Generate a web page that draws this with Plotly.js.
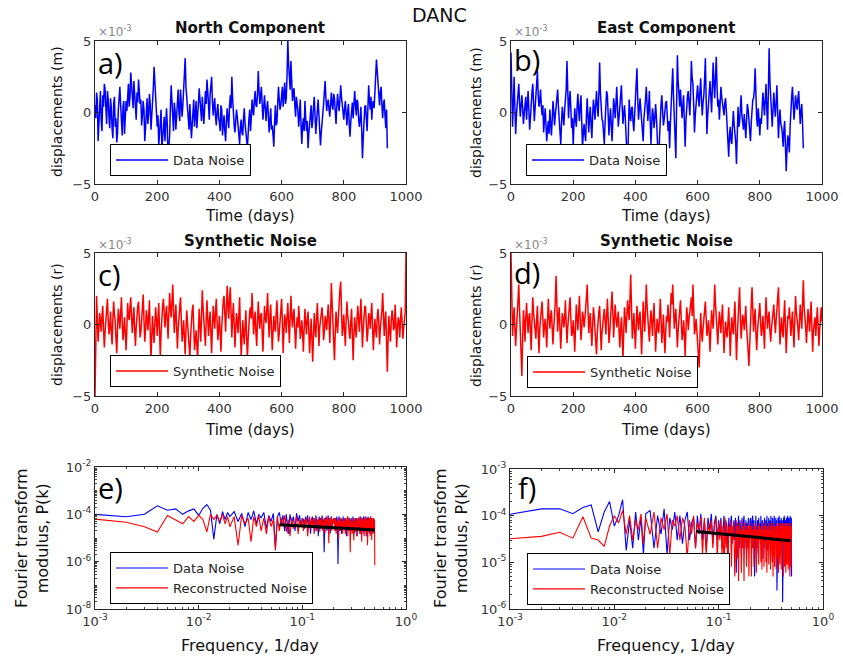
<!DOCTYPE html>
<html>
<head>
<meta charset="utf-8">
<script src="https://cdn.plot.ly/plotly-3.0.1.min.js"></script>
<style>html,body{margin:0;padding:0;background:#fff;}#chart{width:843px;height:664px;}</style>
</head>
<body>
<div id="chart"></div>
<script>
// ---------------- DATA ----------------
// Displacements in units of 1e-3 m, one value every 2.5 days starting at day 0
const northDataNoise = [
 0.5,-0.4,1.4,0.9,-2.0,-0.7,0.8,1.5,-0.6,-1.3,1.2,0.4,2.0,1.6,0.3,-0.8,1.5,0.9,-0.4,-1.1,
 1.0,0.3,-1.2,-1.8,0.6,1.1,-1.0,-0.4,-2.1,-1.4,0.2,0.9,1.8,0.5,-0.8,-1.6,0.4,0.8,-1.5,-0.6,
 0.8,0.1,1.6,2.0,0.4,1.1,2.8,1.9,1.0,0.3,2.2,1.5,0.2,-0.5,1.4,0.7,2.3,1.6,0.6,0.9,
 -0.9,-0.2,0.8,0.2,-2.0,-1.1,0.5,1.0,-0.8,-0.1,1.3,0.6,-1.2,-0.4,0.9,1.7,3.2,2.1,0.7,-0.3,
 -1.0,-0.2,-2.3,-1.5,-0.5,0.2,-2.6,-1.8,-1.1,-0.3,-2.0,-1.2,0.3,-0.9,-4.0,-2.4,-1.6,0.4,1.9,0.8,
 -0.6,-1.3,0.7,0.1,-1.2,-0.3,1.1,1.6,0.0,-0.6,1.6,0.9,-0.3,0.5,1.9,2.6,3.8,1.8,0.9,0.2,
 -0.5,-1.2,0.6,-0.4,-1.8,-0.9,0.3,0.9,-1.0,-0.3,0.8,-1.1,-0.4,0.6,1.7,0.8,0.2,-0.6,1.1,0.4,
 -0.8,0.3,1.5,0.6,2.3,1.5,0.4,-0.5,1.2,1.9,2.5,0.8,-0.2,0.5,1.0,-0.3,-0.9,0.1,0.6,-0.4,
 -0.7,-1.3,0.5,0.2,-1.6,-0.8,-0.2,-1.3,-2.0,-0.6,0.3,-0.5,-1.1,0.4,1.2,0.3,2.5,1.0,-0.3,-0.9,
 -1.4,-0.6,0.2,-0.3,-1.0,-1.7,-2.2,-1.0,-0.5,-1.4,-1.6,-0.4,0.3,-0.8,-1.2,-1.9,-2.5,-1.0,-0.4,0.2,
 -1.3,-0.4,0.9,0.2,-0.2,0.9,1.5,0.5,0.4,1.3,2.9,1.5,0.6,1.2,1.8,0.6,-0.5,0.4,1.2,0.3,
 -0.6,0.3,0.8,-0.3,-1.4,-0.5,0.3,-1.2,-0.9,-1.6,-2.4,-0.7,0.5,-0.9,-0.7,0.6,1.8,0.9,0.2,0.5,
 1.2,1.8,0.4,1.1,2.1,0.6,1.0,2.6,5.0,3.4,2.4,1.6,3.6,2.0,0.8,1.5,1.7,0.5,-0.3,1.1,
 0.6,0.1,-1.0,-0.2,0.9,-1.0,-2.2,-0.9,-0.4,-1.3,0.8,-0.4,-1.3,-0.6,-2.5,-1.5,-0.8,-0.1,0.5,-1.1,
 -0.6,0.4,1.1,-0.2,-1.5,-0.6,0.3,0.9,-0.2,-1.2,-2.3,-1.4,-0.9,-0.1,0.6,1.3,2.2,1.0,0.1,0.7,
 0.9,0.2,-0.3,0.6,1.4,0.5,0.2,1.3,1.0,0.1,-0.8,0.4,1.3,0.6,0.1,0.9,1.9,1.1,0.4,-0.2,
 -0.5,0.3,0.8,-0.1,-0.9,0.1,0.6,-0.8,-1.7,-0.6,0.3,0.7,-0.4,0.4,1.5,0.6,-0.2,0.9,0.7,-0.4,
 -1.0,-0.5,0.4,-1.2,-3.2,-1.8,-0.6,0.4,0.5,-0.6,-1.3,0.3,1.9,0.8,0.2,1.1,-0.5,0.6,0.8,0.3,
 1.6,2.4,3.7,2.9,2.0,1.1,0.5,1.4,1.8,0.5,-0.4,0.6,0.9,-0.2,-1.1,0.2,-2.5
];
const eastDataNoise = [
 4.2,1.5,-1.0,0.6,2.5,0.4,-1.5,-0.2,0.8,1.6,2.0,0.7,-0.3,0.5,1.2,0.3,-0.8,-0.1,0.6,1.1,
 -0.5,0.7,1.5,0.2,-1.2,-0.4,0.9,1.4,2.0,0.5,-0.6,0.3,1.1,1.8,2.9,1.2,0.4,0.8,1.6,0.5,
 -0.2,0.5,-1.4,-0.5,0.3,-0.9,-2.0,-1.1,-0.6,-1.5,0.2,-0.8,-1.6,-0.5,0.8,0.1,-0.9,-0.2,0.3,0.7,
 1.6,0.4,-0.5,-1.3,-2.2,-0.7,0.4,-0.3,-0.9,0.2,0.7,1.6,3.6,1.2,-0.4,0.8,1.5,0.2,-1.1,-0.4,
 -2.3,-0.8,0.3,-0.5,-1.0,0.4,1.3,0.2,-0.6,0.5,1.2,-0.7,-2.5,-1.4,-0.8,-1.5,-2.0,-0.3,1.0,-0.2,
 -1.4,-0.3,0.4,-0.9,-1.8,-0.2,0.9,0.3,-0.5,0.6,1.5,0.4,-0.3,1.2,3.5,1.4,0.2,-0.5,-0.6,-1.5,
 -2.2,-0.7,0.5,1.5,1.2,-0.2,-1.6,-0.5,0.3,-0.9,-2.0,-0.6,1.0,0.4,-0.4,0.7,1.8,0.3,-1.0,-0.3,
 0.6,1.2,1.9,0.4,-0.8,-0.1,0.5,-0.4,-1.5,-2.3,-4.0,-1.4,0.9,-0.2,-0.6,0.3,0.4,-0.7,-1.3,-0.2,
 0.8,1.7,3.1,1.0,-0.5,0.3,1.0,0.2,-0.8,-1.3,-2.0,-0.4,0.7,0.9,1.8,0.5,-0.6,0.4,1.5,-0.5,
 -2.2,-0.8,0.3,-0.2,-1.1,-0.4,0.6,-0.3,-1.6,-2.5,-4.0,-1.8,-0.3,0.6,1.2,0.1,-0.9,-0.5,0.2,0.7,
 0.8,-0.1,-1.3,-0.6,-2.5,-0.8,0.5,1.8,3.1,1.2,-0.6,-1.5,-3.2,0.5,4.0,2.2,0.9,0.4,1.6,0.9,
 -0.4,0.5,1.2,-0.7,-2.4,-0.6,0.6,1.2,1.5,0.4,-0.2,1.3,3.6,2.4,2.0,0.5,-1.4,-0.2,0.8,1.5,
 1.9,1.0,0.4,1.5,2.4,0.9,-0.2,0.7,1.2,2.3,3.8,1.0,-1.5,-0.2,0.6,1.4,2.2,1.1,0.0,1.8,
 3.5,2.0,1.0,2.5,3.9,1.8,0.4,0.9,-0.5,0.6,1.8,1.1,0.6,0.2,-0.2,0.7,1.0,0.1,-0.8,-1.9,
 -3.1,-1.6,-1.0,-2.0,-2.2,-0.9,0.1,-0.8,-1.3,-2.1,-3.6,-1.5,0.4,-1.0,-0.7,0.3,1.2,-0.2,-0.9,-1.2,
 -0.1,-1.1,-1.8,-0.5,0.6,0.2,-0.5,-1.4,-2.0,-0.7,0.2,0.9,1.0,1.6,3.1,0.9,-0.4,-1.0,0.3,-0.5,
 -1.6,-0.4,-0.8,0.3,1.4,0.6,-0.2,0.9,2.0,0.3,-1.2,1.4,4.5,2.2,0.8,0.1,-1.0,0.2,1.4,0.5,
 -0.3,0.7,1.9,0.1,-1.8,-0.6,0.2,-0.8,-1.0,-1.5,-2.4,-1.2,-0.6,-2.4,-4.1,-2.6,-1.6,-2.0,-2.8,-1.0,
 0.4,1.1,1.8,0.6,-0.5,0.3,1.2,0.6,0.2,1.0,1.5,0.4,-0.8,0.1,0.6,-0.8,-2.5
];
const northSynthetic = [
 -5.0,1.6,2.0,0.4,-1.2,-0.3,0.8,0.2,-0.5,0.6,1.3,-0.4,-1.6,-0.5,0.4,1.0,1.8,0.3,-0.7,-0.2,
 0.9,-0.6,-1.4,0.4,1.6,0.7,0.2,-1.0,-2.0,-0.2,1.1,0.5,-0.3,0.8,1.9,0.2,-1.1,-0.4,0.5,-0.7,
 -1.8,-0.2,1.5,0.6,0.3,1.2,1.9,0.5,-0.6,0.4,1.2,-0.3,-1.5,-0.2,0.7,1.3,1.6,0.2,-0.9,-0.5,
 0.4,1.0,2.1,0.3,-1.2,-0.4,1.0,0.5,-0.4,0.6,1.7,-0.5,-2.4,-0.8,0.6,-0.5,-1.3,0.1,1.2,0.4,
 -0.8,0.3,1.5,-0.4,-2.3,-0.6,0.9,1.3,1.8,0.6,-0.2,0.7,1.3,0.2,-1.0,0.8,2.2,1.1,0.5,1.6,
 2.8,1.0,-0.6,0.5,1.4,-0.2,-1.7,-0.3,0.8,1.2,1.9,0.4,-1.2,-0.6,0.3,-0.9,-2.1,-0.4,1.0,0.1,
 -1.0,-1.6,-2.3,-0.8,0.6,1.0,1.4,-0.3,-1.8,-1.0,-0.4,-1.5,-2.4,-0.5,1.1,-0.1,-1.2,0.6,2.4,1.2,
 0.2,-0.7,-1.5,0.3,1.7,0.4,-0.8,0.2,0.9,-0.6,-2.0,-0.2,1.3,0.4,-0.3,0.9,1.8,0.3,-1.1,-0.4,
 0.6,-0.6,-1.9,-0.2,1.2,1.7,2.0,0.7,-0.5,1.1,2.7,1.4,0.4,1.8,2.6,0.9,-0.9,0.5,1.5,0.1,
 -1.6,-0.3,0.8,0.2,-0.6,0.7,1.9,-0.4,-2.2,-1.1,0.3,-0.6,-1.4,-0.1,1.0,-0.8,-2.4,-1.0,0.2,0.9,
 1.2,0.4,2.2,0.8,-0.7,0.3,0.9,-0.6,-1.5,0.2,1.6,0.5,-0.3,0.6,0.8,-0.5,-1.9,-0.2,1.3,0.5,
 0.1,1.1,2.2,0.4,-0.9,0.6,1.4,-0.3,-1.8,-0.5,0.6,-0.2,-0.5,0.8,1.7,0.2,-1.2,-0.6,0.4,1.0,
 1.8,0.2,-2.0,-0.5,0.7,0.3,-0.6,0.6,1.5,0.1,-1.3,0.4,2.0,0.7,-0.2,0.6,1.1,-0.4,-1.7,-0.3,
 0.5,-0.2,1.3,0.4,-1.0,-0.5,0.3,-0.6,-1.9,-0.3,1.1,0.2,-0.7,0.3,0.9,-0.4,-2.0,-0.8,0.4,-1.0,
 -2.6,-0.8,0.8,-0.4,-0.9,0.5,1.5,0.1,-1.5,-0.2,0.2,0.9,1.2,0.3,-1.1,-0.5,0.6,0.2,-0.4,0.6,
 1.4,0.2,-1.3,0.6,2.9,1.5,0.4,-0.9,-2.5,-0.6,0.9,0.1,-0.6,0.5,1.9,2.4,3.0,1.0,-0.8,-0.2,
 0.7,-0.5,-1.5,0.3,1.6,0.6,0.2,-0.6,-1.0,0.2,1.1,-0.7,-2.5,-0.8,0.5,-0.3,-0.9,0.4,1.3,0.4,
 -0.5,0.6,1.8,0.2,-1.6,-0.3,0.6,1.3,1.2,0.1,-1.2,-0.5,0.8,0.5,-0.3,0.7,1.5,-0.2,-1.8,-0.6,
 0.4,-0.4,-0.9,0.5,1.1,0.2,-1.4,-0.3,0.3,1.0,2.2,0.6,-0.8,0.3,0.9,-1.2,-3.3,-1.0,0.6,-0.4,
 -1.2,0.2,1.0,0.5,-0.4,-0.2,1.4,0.1,-1.6,-0.3,0.5,0.2,-0.9,0.4,1.2,0.1,-1.0,-0.3,0.3,0.9,
 5.0
];
const eastSynthetic = [
 5.0,0.6,-0.8,0.3,1.2,-0.2,-1.5,-0.4,0.6,1.4,2.8,1.0,-0.4,-1.8,-3.6,-1.0,1.0,0.2,-1.2,0.4,
 1.5,0.4,-0.6,0.5,0.8,-0.6,-1.8,0.3,1.9,0.8,0.2,-0.6,-1.0,0.4,1.3,-0.5,-2.0,-0.3,0.7,1.0,
 1.6,0.2,-0.9,-0.1,0.4,-0.5,-1.6,0.3,1.8,0.5,-0.3,0.6,1.0,-0.3,-1.4,-0.2,0.5,1.6,3.4,1.2,
 -0.5,0.6,1.2,-0.4,-1.7,-0.3,0.8,0.5,-0.2,0.4,1.7,0.1,-1.3,-0.2,0.6,1.2,1.9,0.4,-0.8,-0.6,
 0.3,-0.6,-1.9,-0.2,1.4,0.5,-0.4,0.8,2.0,0.4,-1.1,-0.3,0.9,0.5,-0.2,0.4,1.6,1.9,2.8,1.0,
 -0.6,0.3,0.8,-0.5,-1.5,-0.1,1.2,0.6,-0.3,-1.2,-2.1,-0.6,0.5,0.9,1.3,-0.2,-1.8,-0.6,0.2,0.8,
 1.1,0.3,-0.7,0.6,1.8,0.4,-1.3,-0.6,0.4,1.2,2.3,0.8,-0.9,0.3,1.4,0.5,-0.2,0.3,0.9,-0.5,
 -1.6,-0.3,0.5,-0.7,-2.4,-0.5,1.2,0.4,-0.6,0.6,1.7,0.9,0.3,1.8,3.5,1.2,-1.0,-0.2,0.8,-0.4,
 -1.7,-0.2,1.3,0.4,-0.4,0.5,0.9,-0.6,-2.1,-0.3,1.6,0.5,-0.5,1.0,2.8,1.3,0.2,-0.6,-1.2,0.1,
 1.0,0.2,-0.8,0.6,1.5,-0.2,-1.9,-0.6,0.4,-0.3,-0.6,0.5,1.8,0.4,-1.3,-0.4,0.7,-0.8,-2.0,-0.5,
 0.6,0.2,1.4,0.4,-0.9,0.7,2.2,1.4,2.8,1.2,-0.3,0.5,1.1,-0.2,-1.6,-0.4,0.5,1.2,1.7,0.3,
 -1.1,-0.6,0.3,-0.8,-2.2,-0.4,1.2,0.6,-0.4,0.4,0.9,1.4,1.9,0.6,2.8,1.1,-0.7,-0.3,0.4,-0.4,
 -1.5,-2.0,-3.0,-1.0,0.8,-0.5,-1.2,-0.3,0.5,0.9,1.6,0.4,-0.8,-0.3,0.3,-0.6,-1.9,-0.4,1.0,0.4,
 -0.3,1.0,2.8,1.5,0.6,-0.5,-1.4,-0.1,0.9,0.2,-0.6,0.5,1.4,-0.3,-2.0,-0.8,0.2,-0.5,-0.9,0.1,
 1.2,-0.4,-2.2,-0.6,0.5,-0.3,-0.7,0.6,1.6,-0.4,-2.5,-0.9,0.3,1.2,2.6,0.6,-1.0,-0.1,0.7,0.3,
 -0.4,0.5,1.3,-0.2,-1.6,-1.9,-2.9,-0.8,0.8,1.4,2.6,0.9,-0.5,0.4,1.1,-0.6,-1.8,-0.5,0.4,0.8,
 1.5,0.2,-0.8,-0.3,0.6,-0.4,-1.7,0.4,1.9,0.6,-0.3,0.5,0.9,-0.4,-1.2,-0.3,0.2,0.9,1.4,0.3,
 -0.6,0.3,1.0,1.6,2.6,0.5,-1.4,-0.3,0.5,-0.5,-0.9,0.6,1.7,-0.2,-2.0,-0.6,0.6,0.4,1.2,0.2,
 -0.8,0.2,0.9,-0.4,-1.6,0.3,2.0,0.9,0.4,-0.2,-1.1,0.3,1.4,0.5,-0.3,1.4,3.1,1.2,0.6,-0.2,
 -1.3,0.1,1.1,0.4,-0.5,0.6,1.6,-0.2,-1.9,-0.4,0.3,0.5,-0.8,0.3,1.2,-0.1,-1.5,-0.4,0.6,1.2,
 0.2
];

// Spectra: frequency (1/day) and Fourier modulus in units of 1e-5
const frequency = [
 0.001,0.002,0.003,0.004,0.005,0.006,0.007,0.008,0.009,0.010,
 0.011,0.012,0.013,0.014,0.015,0.016,0.017,0.018,0.019,0.020,
 0.022,0.024,0.026,0.028,0.030,0.032,0.034,0.036,0.038,0.040,
 0.0425,0.045,0.0475,0.050,0.0525,0.055,0.0575,0.060,0.0625,0.065,0.0675,0.070,
 0.073,0.076,0.079,0.082,0.085,0.088,0.091,0.094,0.097,0.100,
 0.1025,0.105,0.1075,0.110,0.1125,0.115,0.1175,0.120,0.1225,0.125,
 0.1275,0.130,0.1325,0.135,0.1375,0.140,0.1425,0.145,0.1475,0.150,
 0.1525,0.155,0.1575,0.160,0.1625,0.165,0.1675,0.170,0.1725,0.175,
 0.1775,0.180,0.1825,0.185,0.1875,0.190,0.1925,0.195,0.1975,0.200,
 0.203,0.206,0.209,0.212,0.215,0.218,0.221,0.224,0.227,0.230,
 0.233,0.236,0.239,0.242,0.245,0.248,0.251,0.254,0.257,0.260,
 0.263,0.266,0.269,0.272,0.275,0.278,0.281,0.284,0.287,0.290,
 0.293,0.296,0.299,0.302,0.305,0.308,0.311,0.314,0.317,0.320,
 0.323,0.326,0.329,0.332,0.335,0.338,0.341,0.344,0.347,0.350,
 0.353,0.356,0.359,0.362,0.365,0.368,0.371,0.374,0.377,0.380,
 0.383,0.386,0.389,0.392,0.395,0.398,0.401,0.404,0.407,0.410,
 0.413,0.416,0.419,0.422,0.425,0.428,0.431,0.434,0.437,0.440,
 0.443,0.446,0.449,0.452,0.455,0.458,0.461,0.464,0.467,0.470,
 0.473,0.476,0.479,0.482,0.485,0.488,0.491,0.494,0.497,0.500
];
const northSpecData = [
 10, 7.9, 10, 23, 15, 17, 10, 14, 17, 9, 18, 26, 15, 0.9, 10, 4, 13, 6, 12, 8,
 13, 5, 11, 3, 12, 6, 14, 4, 10, 7,
 12, 2.5, 9, 5, 11, 0.4, 8, 12, 4, 9, 2, 10,
 1.5, 10, 4, 8, 2, 11, 5, 9, 3, 7,
 6, 2.5, 8, 4, 9, 3, 7, 1.5, 6, 8, 3, 7, 2, 9, 4, 6, 1.2, 8, 5, 7,
 2.5, 9, 3, 6, 0.25, 7, 4, 8, 2, 6, 9, 3, 7, 1.5, 5, 8, 2.5, 6, 4, 7,
 7, 3, 6, 2, 8, 4, 0.08, 6, 8, 2, 5, 7, 1.5, 6, 4, 8, 2.5, 6, 3, 7,
 5, 1.2, 6, 4, 8, 2, 5, 7, 3, 6, 1.8, 7, 4, 5, 2.5, 8, 3, 6, 1.5, 5,
 7, 2, 6, 4, 7, 1.2, 5, 3, 6, 2, 7, 4, 1.5, 5, 8, 3, 6, 2, 7, 4,
 6, 1.5, 8, 3, 5, 7, 2, 6, 4, 8, 1.2, 6, 3, 7, 2.5, 5, 8, 2, 6, 4,
 7, 1.5, 5, 3, 8, 2, 6, 4, 7, 1.8, 5, 3, 6, 2, 7, 4, 1.5, 6, 3, 5
];
const northSpecRecon = [
 6.3, 4.6, 3.0, 1.8, 9, 6, 4, 8, 5, 9, 6, 1.8, 10, 6, 9, 5, 10, 4, 8, 3,
 8, 0.5, 9, 4, 7, 0.7, 8, 3, 9, 2,
 7, 1.5, 8, 3, 6, 0.3, 8, 2, 7, 4, 9, 1.8,
 6, 1.2, 7, 2.5, 5, 8, 1.5, 6, 3, 7,
 2, 6, 4, 7, 1.2, 5, 8, 2.5, 6, 3, 7, 1.5, 5, 8, 2, 6, 4, 7, 1.8, 6,
 3, 8, 2, 5, 7, 1.5, 6, 4, 8, 2.5, 6, 0.6, 7, 3, 5, 8, 2, 6, 4, 7,
 6, 2, 7, 1.5, 5, 3, 7, 0.9, 6, 4, 2, 7, 3, 5, 1.5, 6, 2.5, 7, 4, 1.5,
 6, 3, 5, 8, 1.2, 6, 2, 7, 4, 0.25, 5, 3, 6, 1.5, 7, 2.5, 5, 0.8, 6, 3,
 7, 1.8, 5, 4, 1.2, 6, 2, 7, 3, 5, 8, 2, 6, 1.5, 7, 3, 5, 0.7, 6, 4,
 2, 7, 3, 6, 1.2, 5, 8, 2.5, 6, 4, 1.5, 7, 3, 5, 0.5, 6, 2, 7, 4, 1.8,
 6, 3, 7, 1.2, 5, 8, 2, 6, 0.8, 7, 3, 5, 1.5, 6, 4, 7, 2, 0.4, 5, 0.07
];
const eastSpecData = [
 10.7, 14, 14, 11, 15, 17, 4.5, 12, 20, 6, 10, 22, 1.8, 8, 2, 12, 3, 9, 1.5, 11,
 13, 2, 10, 4, 14, 1.5, 9, 5, 12, 3,
 10, 2.5, 8, 12, 3, 7, 9, 2, 10, 4, 11, 3,
 8, 1.8, 9, 5, 11, 2.5, 7, 10, 3, 8,
 4, 9, 2, 7, 10, 3, 8, 5, 1.5, 9, 4, 7, 10, 2.5, 6, 8, 3, 9, 0.6, 7,
 4, 10, 2, 8, 5, 1.5, 9, 3, 7, 10, 2, 6, 8, 1.2, 7, 4, 9, 2.5, 6, 8,
 9, 3, 7, 10, 2, 8, 0.5, 7, 10, 2, 6, 8, 1.5, 9, 4, 7, 2.5, 10, 3, 6,
 8, 1.2, 7, 5, 9, 2, 6, 8, 3, 10, 1.8, 7, 4, 9, 2.5, 6, 8, 2, 10, 3,
 7, 5, 9, 1.5, 8, 4, 10, 2, 7, 5, 9, 3, 8, 0.25, 7, 4, 9, 2, 6, 10,
 3, 8, 1.5, 7, 5, 9, 2, 6, 8, 0.14, 7, 4, 9, 2, 10, 3, 6, 8, 1.2, 7,
 5, 9, 2.5, 8, 3, 10, 2, 7, 4, 9, 1.5, 6, 8, 3, 10, 2, 7, 5, 9, 0.5
];
const eastSpecRecon = [
 3.2, 3.6, 4.4, 3.3, 9.5, 3.3, 3.0, 2.2, 6, 10, 7, 13, 4, 10, 3, 8, 5, 11, 2.5, 9,
 4, 12, 2, 9, 5, 11, 1.5, 8, 6, 10,
 3, 9, 6, 1.2, 8, 4, 10, 2, 7, 5, 9, 1.5,
 9, 1.5, 7, 4, 8, 2, 6, 9, 1.2, 7,
 3, 8, 1.5, 6, 0.5, 9, 2, 7, 0.4, 6, 4, 8, 0.8, 6, 3, 7, 0.5, 5, 8, 1.2,
 6, 0.4, 7, 3, 5, 0.6, 8, 2, 6, 0.4, 7, 3, 5, 0.8, 6, 2, 7, 0.5, 6, 4,
 6, 0.5, 7, 2, 5, 0.8, 6, 3, 7, 0.6, 5, 2, 6, 0.9, 7, 3, 5, 1, 6, 0.7,
 7, 2.5, 5, 0.8, 6, 3, 7, 1, 5, 0.6, 6, 2, 7, 0.9, 5, 3, 6, 0.7, 7, 2,
 5, 1, 6, 0.5, 7, 3, 5, 0.8, 6, 4, 6, 0.7, 7, 2, 5, 1.2, 6, 0.6, 7, 3,
 5, 0.9, 6, 2, 7, 0.7, 5, 3, 6, 1, 7, 0.5, 5, 2.5, 6, 0.8, 7, 3, 5, 0.6,
 6, 2, 7, 0.9, 5, 3, 6, 0.7, 7, 2, 5, 1, 6, 0.5, 7, 3, 5, 0.8, 6, 4
];
// Power-law fit lines (endpoints), modulus in units of 1e-5
const northFitFreq = [0.06, 0.5];
const northFitP = [3.6, 2.2];
const eastFitFreq = [0.061, 0.49];
const eastFitP = [4.6, 2.9];

const logTickVals = [0.001, 0.01, 0.1, 1];
const logTickText = ['10<sup>-3</sup>', '10<sup>-2</sup>', '10<sup>-1</sup>', '10<sup>0</sup>'];
const eYTickVals = [1e-8, 1e-6, 1e-4, 1e-2];
const eYTickText = ['10<sup>-8</sup>', '10<sup>-6</sup>', '10<sup>-4</sup>', '10<sup>-2</sup>'];
const fYTickVals = [1e-6, 1e-5, 1e-4, 1e-3];
const fYTickText = ['10<sup>-6</sup>', '10<sup>-5</sup>', '10<sup>-4</sup>', '10<sup>-3</sup>'];

// ---------------- PLOT ----------------
const W = 843, H = 664;
const FONT = 'DejaVu Sans';
const BLUE = '#0000ff', RED = '#ff0000';
const scale = (arr, s) => arr.map(v => v * s);
const dxd = (a, b) => [a / W, b / W];
const dyd = (top, bottom) => [1 - bottom / H, 1 - top / H];
const STEP = 2.5;
const TW = 1.5;   // time-series line width
const SW = 1.1;   // spectrum line width

const traces = [
  {type:'scatter', mode:'lines', name:'Data Noise', y:northDataNoise, x0:0, dx:STEP,
   xaxis:'x', yaxis:'y', line:{color:BLUE, width:TW}, legend:'legend'},
  {type:'scatter', mode:'lines', name:'Data Noise', y:eastDataNoise, x0:0, dx:STEP,
   xaxis:'x2', yaxis:'y2', line:{color:BLUE, width:TW}, legend:'legend2'},
  {type:'scatter', mode:'lines', name:'Synthetic Noise', y:northSynthetic, x0:0, dx:STEP,
   xaxis:'x3', yaxis:'y3', line:{color:RED, width:TW}, legend:'legend3'},
  {type:'scatter', mode:'lines', name:'Synthetic Noise', y:eastSynthetic, x0:0, dx:STEP,
   xaxis:'x4', yaxis:'y4', line:{color:RED, width:TW}, legend:'legend4'},
  {type:'scatter', mode:'lines', name:'Data Noise', x:frequency, y:scale(northSpecData,1e-5),
   xaxis:'x5', yaxis:'y5', line:{color:BLUE, width:SW}, legend:'legend5'},
  {type:'scatter', mode:'lines', name:'Reconstructed Noise', x:frequency, y:scale(northSpecRecon,1e-5),
   xaxis:'x5', yaxis:'y5', line:{color:RED, width:SW}, legend:'legend5'},
  {type:'scatter', mode:'lines', x:northFitFreq, y:scale(northFitP,1e-5), showlegend:false,
   xaxis:'x5', yaxis:'y5', line:{color:'#000', width:3}},
  {type:'scatter', mode:'lines', name:'Data Noise', x:frequency, y:scale(eastSpecData,1e-5),
   xaxis:'x6', yaxis:'y6', line:{color:BLUE, width:SW}, legend:'legend6'},
  {type:'scatter', mode:'lines', name:'Reconstructed Noise', x:frequency, y:scale(eastSpecRecon,1e-5),
   xaxis:'x6', yaxis:'y6', line:{color:RED, width:SW}, legend:'legend6'},
  {type:'scatter', mode:'lines', x:eastFitFreq, y:scale(eastFitP,1e-5), showlegend:false,
   xaxis:'x6', yaxis:'y6', line:{color:'#000', width:3}}
];

const tickFont = {family:FONT, size:13, color:'#333'};
function linAxis(domain, range, dtick, anchor) {
  return {domain, range, dtick, tick0:0, anchor, ticks:'inside', ticklen:4, tickcolor:'#262626',
    mirror:'ticks', showline:true, linecolor:'#262626', linewidth:1, showgrid:false,
    zeroline:false, tickfont:tickFont, fixedrange:true};
}
function logAxis(domain, range, vals, text, anchor) {
  return {domain, type:'log', range, tickmode:'array', tickvals:vals, ticktext:text, anchor,
    ticks:'inside', ticklen:4, tickcolor:'#262626', mirror:'ticks', showline:true,
    linecolor:'#262626', linewidth:1, showgrid:false, zeroline:false, tickfont:tickFont,
    minor:{ticks:'inside', ticklen:2, tickcolor:'#444', dtick:'D1', tickmode:'linear', showgrid:false}};
}

function legendAt(X, Y) {
  return {x:X / W, y:1 - Y / H, xanchor:'left', yanchor:'top', bgcolor:'#fff',
    bordercolor:'#000', borderwidth:1, font:{family:FONT, size:13, color:'#262626'},
    itemwidth:52, tracegroupgap:0};
}

function ann(text, X, Y, o) {
  o = o || {};
  return Object.assign({text, xref:'paper', yref:'paper', x:X / W, y:1 - Y / H,
    xanchor:'center', yanchor:'middle', showarrow:false,
    font:{family:FONT, size:o.size || 15, color:o.color || '#111'}}, o.extra || {});
}

const annotations = [
  ann('DANC', 439, 15, {size:19}),
  ann('<b>North Component</b>', 250, 28, {size:15}),
  ann('<b>East Component</b>', 666, 28, {size:15}),
  ann('<b>Synthetic Noise</b>', 250, 241, {size:15}),
  ann('<b>Synthetic Noise</b>', 666, 241, {size:15}),
  ann('×10<sup>-3</sup>', 96, 31, {size:12, color:'#888', extra:{xanchor:'left'}}),
  ann('×10<sup>-3</sup>', 512, 31, {size:12, color:'#888', extra:{xanchor:'left'}}),
  ann('×10<sup>-3</sup>', 96, 244, {size:12, color:'#888', extra:{xanchor:'left'}}),
  ann('×10<sup>-3</sup>', 512, 244, {size:12, color:'#888', extra:{xanchor:'left'}}),
  ann('Time (days)', 250, 216, {size:15}),
  ann('Time (days)', 666, 216, {size:15}),
  ann('Time (days)', 250, 430, {size:15}),
  ann('Time (days)', 666, 430, {size:15}),
  ann('Frequency, 1/day', 250, 645, {size:16}),
  ann('Frequency, 1/day', 666, 645, {size:16}),
  ann('displacements (m)', 57, 112, {size:14, extra:{textangle:-90}}),
  ann('displacements (m)', 476, 112, {size:14, extra:{textangle:-90}}),
  ann('displacements (r)', 57, 325, {size:14, extra:{textangle:-90}}),
  ann('displacements (r)', 476, 325, {size:14, extra:{textangle:-90}}),
  ann('Fourier transform<br>modulus, P(k)', 32, 538, {size:16, extra:{textangle:-90}}),
  ann('Fourier transform<br>modulus, P(k)', 451, 538, {size:16, extra:{textangle:-90}}),
];
const labelFont = {family:'Open Sans', size:29, color:'#000'};
[['a)',96,62],['b)',512,59],['c)',96,274],['d)',512,272],['e)',96,487],['f)',516,487]].forEach(p => {
  annotations.push({text:p[0], xref:'paper', yref:'paper', x:p[1]/W, y:1-p[2]/H, xanchor:'left',
    yanchor:'middle', showarrow:false, font:labelFont});
});

const layout = {
  width:W, height:H, margin:{l:0, r:0, t:0, b:0}, paper_bgcolor:'#fff', plot_bgcolor:'#fff',
  showlegend:true,
  xaxis:  linAxis(dxd(95,406), [0,1000], 200, 'y'),
  yaxis:  linAxis(dyd(41,184), [-5,5], 5, 'x'),
  xaxis2: linAxis(dxd(511,822), [0,1000], 200, 'y2'),
  yaxis2: linAxis(dyd(41,184), [-5,5], 5, 'x2'),
  xaxis3: linAxis(dxd(95,406), [0,1000], 200, 'y3'),
  yaxis3: linAxis(dyd(253,396), [-5,5], 5, 'x3'),
  xaxis4: linAxis(dxd(511,822), [0,1000], 200, 'y4'),
  yaxis4: linAxis(dyd(253,396), [-5,5], 5, 'x4'),
  xaxis5: logAxis(dxd(95,406), [-3,0], logTickVals, logTickText, 'y5'),
  yaxis5: logAxis(dyd(467,609), [-8,-2], eYTickVals, eYTickText, 'x5'),
  xaxis6: logAxis(dxd(510,823), [-3,0], logTickVals, logTickText, 'y6'),
  yaxis6: logAxis(dyd(469,609), [-6,-3], fYTickVals, fYTickText, 'x6'),
  legend:  legendAt(110,144),
  legend2: legendAt(526,144),
  legend3: legendAt(110,355),
  legend4: legendAt(527,356),
  legend5: legendAt(110,552),
  legend6: legendAt(527,553),
  annotations
};

Plotly.newPlot('chart', traces, layout, {staticPlot:true, displayModeBar:false});
</script>
</body>
</html>
